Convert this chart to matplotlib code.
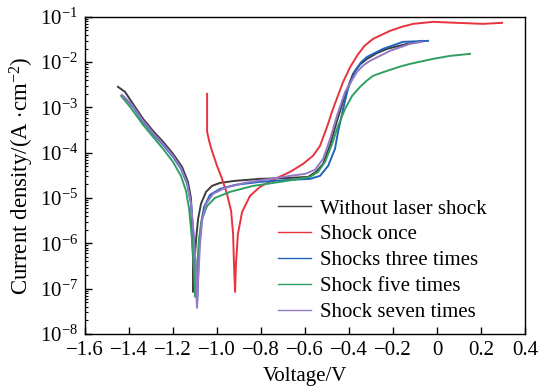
import numpy as np
import matplotlib
matplotlib.use("Agg")
import matplotlib.pyplot as plt
from matplotlib.ticker import LogLocator, MultipleLocator, FuncFormatter, NullFormatter

# potentiodynamic polarisation curves (voltage in V, log10 of current density in A/cm2)
v_none = [-1.450, -1.418, -1.382, -1.336, -1.291, -1.245, -1.200, -1.159, -1.132, -1.118, -1.114, -1.109, -1.109,
          -1.105, -1.095, -1.086, -1.073, -1.050, -1.023, -0.986, -0.918, -0.805, -0.668, -0.586, -0.550, -0.518,
          -0.486, -0.455, -0.418, -0.382, -0.350, -0.318, -0.273, -0.227, -0.136, -0.068]
lg_none = [-2.545, -2.656, -2.921, -3.252, -3.517, -3.759, -4.024, -4.311, -4.642, -5.018, -5.680, -6.342, -7.071,
           -6.563, -5.901, -5.459, -5.128, -4.863, -4.731, -4.664, -4.620, -4.576, -4.554, -4.532, -4.422, -4.245,
           -3.826, -3.296, -2.722, -2.258, -2.050, -1.927, -1.800, -1.706, -1.596, -1.530]

v_once = [-1.045, -1.045, -1.036, -1.023, -1.000, -0.977, -0.955, -0.936, -0.927, -0.923, -0.918,
          -0.914, -0.905, -0.886, -0.850, -0.805, -0.736, -0.668, -0.609, -0.564, -0.532, -0.500, -0.473,
          -0.427, -0.395, -0.364, -0.330, -0.291, -0.214, -0.160, -0.109, -0.018, 0.091, 0.209, 0.295]
lg_once = [-2.700, -3.539, -3.737, -3.958, -4.289, -4.576, -4.907, -5.283, -5.790, -6.453, -7.071,
           -6.453, -5.790, -5.305, -4.951, -4.753, -4.576, -4.422, -4.245, -4.068, -3.848, -3.428, -3.031,
           -2.435, -2.110, -1.861, -1.640, -1.486, -1.309, -1.220, -1.155, -1.110, -1.132, -1.155, -1.132]

v_three = [-1.423, -1.382, -1.336, -1.291, -1.245, -1.200, -1.164, -1.136, -1.118, -1.105, -1.095, -1.091,
           -1.086, -1.082, -1.073, -1.059, -1.032, -0.986, -0.918, -0.805, -0.668, -0.577, -0.532, -0.495,
           -0.464, -0.450, -0.427, -0.405, -0.373, -0.345, -0.318, -0.245, -0.155, -0.041]
lg_three = [-2.766, -2.987, -3.318, -3.583, -3.826, -4.091, -4.355, -4.687, -5.128, -5.901, -6.673, -7.380,
            -6.784, -6.121, -5.570, -5.194, -4.929, -4.797, -4.709, -4.642, -4.598, -4.576, -4.510, -4.289,
            -3.914, -3.539, -3.031, -2.589, -2.192, -2.000, -1.883, -1.706, -1.552, -1.530]

v_five = [-1.436, -1.395, -1.336, -1.291, -1.245, -1.200, -1.164, -1.141, -1.127, -1.114, -1.105, -1.100,
          -1.091, -1.082, -1.068, -1.045, -1.009, -0.941, -0.836, -0.682, -0.577, -0.541, -0.509, -0.477,
          -0.450, -0.418, -0.386, -0.350, -0.320, -0.291, -0.250, -0.214, -0.170, -0.123, -0.018, 0.059, 0.150]
lg_five = [-2.744, -2.987, -3.384, -3.649, -3.914, -4.201, -4.510, -4.841, -5.238, -5.901, -6.563, -7.181,
           -6.563, -5.901, -5.459, -5.172, -4.996, -4.863, -4.731, -4.620, -4.532, -4.422, -4.201, -3.804,
           -3.406, -3.031, -2.744, -2.545, -2.410, -2.302, -2.230, -2.170, -2.100, -2.038, -1.927, -1.861, -1.817]

v_seven = [-1.432, -1.386, -1.336, -1.291, -1.245, -1.200, -1.164, -1.136, -1.118, -1.105, -1.095, -1.091,
           -1.086, -1.077, -1.068, -1.050, -1.018, -0.964, -0.873, -0.759, -0.668, -0.600, -0.555, -0.518,
           -0.486, -0.455, -0.418, -0.364, -0.335, -0.305, -0.214, -0.123, -0.068]
lg_seven = [-2.722, -2.943, -3.296, -3.561, -3.804, -4.068, -4.333, -4.664, -5.128, -5.901, -6.673, -7.424,
            -6.784, -6.011, -5.503, -5.128, -4.907, -4.775, -4.664, -4.576, -4.510, -4.466, -4.377, -4.135,
            -3.693, -3.185, -2.656, -2.214, -2.070, -1.971, -1.751, -1.596, -1.552]

labels = ["Without laser shock", "Shock once", "Shocks three times", "Shock five times", "Shock seven times"]
colors = ["#3c3c3c", "#e8333f", "#2063bd", "#2f9f62", "#9479c6"]

plt.rcParams["font.family"] = ["Liberation Serif", "DejaVu Serif"]
plt.rcParams["mathtext.fontset"] = "custom"
plt.rcParams["mathtext.rm"] = "Liberation Serif"
plt.rcParams["mathtext.it"] = "Liberation Serif:italic"
plt.rcParams["axes.unicode_minus"] = True

fig = plt.figure(figsize=(5.38, 3.92), dpi=100)
ax = fig.add_axes([0.158, 0.148, 0.818, 0.809])

series = [(v_none, lg_none), (v_once, lg_once), (v_three, lg_three), (v_five, lg_five), (v_seven, lg_seven)]
for (v, lg), lab, c in zip(series, labels, colors):
    ax.plot(v, 10.0 ** np.array(lg), color=c, lw=1.4, label=lab)

ax.set_yscale("log")
ax.set_xlim(-1.6, 0.4)
ax.set_ylim(1e-8, 1e-1)
ax.xaxis.set_major_locator(MultipleLocator(0.2))
ax.xaxis.set_major_formatter(FuncFormatter(
    lambda x, p: "0" if abs(x) < 1e-9 else f"{x:.1f}".replace("-", "\u2212")))
ax.yaxis.set_major_locator(LogLocator(base=10, numticks=20))
ax.yaxis.set_minor_locator(LogLocator(base=10, subs=np.arange(2, 10), numticks=20))
ax.yaxis.set_minor_formatter(NullFormatter())
ax.tick_params(direction="in", labelsize=15, length=5, width=1, pad=5)
ax.tick_params(which="minor", direction="in", length=2.5, width=0.8)
for s in ax.spines.values():
    s.set_linewidth(1.0)

ax.set_xlabel("Voltage/V", fontsize=15, labelpad=5)
ax.set_ylabel("Current density/(A $\\cdot$cm$^{-2}$)", fontsize=16.5, labelpad=3)

leg = ax.legend(loc="upper left", bbox_to_anchor=(0.395, 0.485), frameon=False, fontsize=15,
                handlelength=1.6, labelspacing=0.3, handletextpad=0.45)
for ln in leg.get_lines():
    ln.set_linewidth(1.0)

fig.savefig("out.png", dpi=100)
